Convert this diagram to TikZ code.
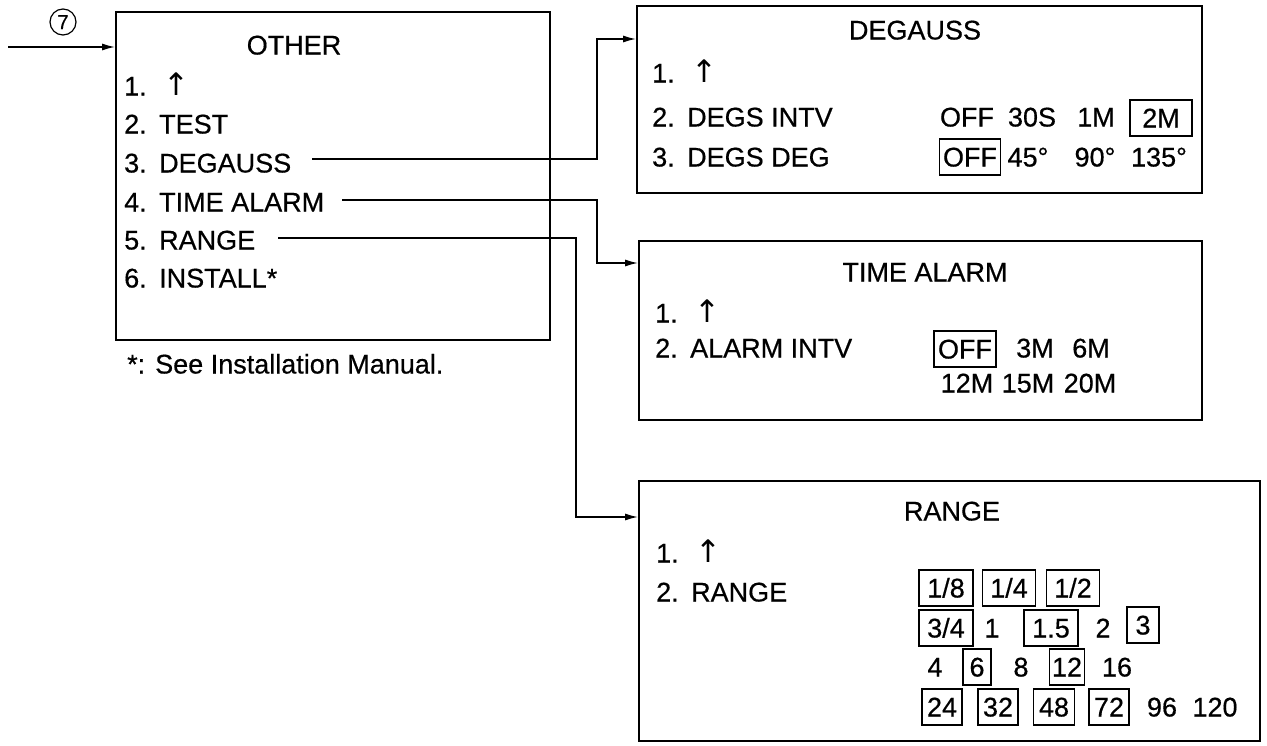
\documentclass[tikz,border=0pt]{standalone}
\usepackage{fontspec}
\setmainfont{Liberation Sans}[FakeBold=0.5]
\newfontfamily\symfont{DejaVu Sans}
\usetikzlibrary{arrows.meta}
\newcommand\mitem[2]{\makebox[35pt][l]{#1}#2}
\newcommand\uparr{\hspace{4pt}{\symfont\fontsize{31}{31}\selectfont ↑}}
\begin{document}
\begin{tikzpicture}[x=1pt,y=-1pt,
  every node/.style={font=\fontsize{27}{30}\selectfont, inner sep=0pt, text height=19pt, text depth=0pt},
  txt/.style={anchor=west},
  menubox/.style={draw, line width=1.8pt, rectangle},
  sel/.style={draw, line width=1.5pt, minimum height=36pt},
  conn/.style={line width=1.5pt, -{Latex[length=13pt,width=7pt]}},
  ]
\useasboundingbox (0,0) rectangle (1267,745);
\fill[white] (0,0) rectangle (1267,745);

% boxes
\node[menubox, minimum width=434pt, minimum height=328pt] (other) at (333,176) {};
\node[menubox, minimum width=565pt, minimum height=187pt] (dg) at (919.5,99.5) {};
\node[menubox, minimum width=563pt, minimum height=179pt] (ta) at (920.5,330.5) {};
\node[menubox, minimum width=621pt, minimum height=260pt] (rg) at (949.5,611) {};

% entry
\node[draw, circle, line width=1.2pt, minimum size=26pt, text height=14pt, font=\fontsize{20}{22}\selectfont] (seven) at (63,22) {7};
\coordinate (in) at (8,47);
\draw[conn] (in) -- (in -| other.west);

% OTHER
\node (othert) at (294,45) {OTHER};
\node[txt] (o1) at (124,86) {\mitem{1.}{\uparr}};
\node[txt] (o2) at (124,124) {\mitem{2.}{TEST}};
\node[txt] (o3) at (124,163) {\mitem{3.}{DEGAUSS}};
\node[txt] (o4) at (124,202) {\mitem{4.}{TIME ALARM}};
\node[txt] (o5) at (124,240) {\mitem{5.}{RANGE}};
\node[txt] (o6) at (124,278) {\mitem{6.}{INSTALL*}};
\node[txt] (foot) at (127,364) {*: See Installation Manual.};

% connectors
\coordinate (s3) at (312,159);
\coordinate (k3) at (597,39);
\draw[conn] (s3) -| (k3) -- (k3 -| dg.west);
\coordinate (s4) at (342,200);
\coordinate (k4) at (597,263);
\draw[conn] (s4) -| (k4) -- (k4 -| ta.west);
\coordinate (s5) at (278,238);
\coordinate (k5) at (576,517);
\draw[conn] (s5) -| (k5) -- (k5 -| rg.west);

% DEGAUSS
\node (dgt) at (915,30) {DEGAUSS};
\node[txt] (d1) at (652,73) {\mitem{1.}{\uparr}};
\node[txt] (d2) at (652,117) {\mitem{2.}{DEGS INTV}};
\node[txt] (d3) at (652,157) {\mitem{3.}{DEGS DEG}};
\node (d2a) at (967,117) {OFF};
\node (d2b) at (1032,117) {30S};
\node (d2c) at (1096,117) {1M};
\node[sel, minimum width=62pt] (d2d) at (1161,118) {2M};
\node[sel, minimum width=61pt] (d3a) at (970,157) {OFF};
\node (d3b) at (1028,157) {45°};
\node (d3c) at (1095,157) {90°};
\node (d3d) at (1159,157) {135°};

% TIME ALARM
\node (tat) at (925,272) {TIME ALARM};
\node[txt] (t1) at (655,313) {\mitem{1.}{\uparr}};
\node[txt] (t2) at (655,348) {\mitem{2.}{ALARM INTV}};
\node[sel, minimum width=62pt] (t2a) at (965,349) {OFF};
\node (t2b) at (1035,348) {3M};
\node (t2c) at (1091,348) {6M};
\node (t3a) at (967,383) {12M};
\node (t3b) at (1028,383) {15M};
\node (t3c) at (1090,383) {20M};

% RANGE
\node (rgt) at (952,511) {RANGE};
\node[txt] (r1) at (656,553) {\mitem{1.}{\uparr}};
\node[txt] (r2) at (656,592) {\mitem{2.}{RANGE}};
\node[sel, minimum width=54pt] (v18) at (946,588) {1/8};
\node[sel, minimum width=53pt] (v14) at (1009,588) {1/4};
\node[sel, minimum width=53pt] (v12) at (1073,588) {1/2};
\node[sel, minimum width=54pt] (v34) at (946,628) {3/4};
\node (v1) at (992,628) {1};
\node[sel, minimum width=54pt] (v15) at (1051,628) {1.5};
\node (v2) at (1103,628) {2};
\node[sel, minimum width=32pt] (v3) at (1143,625) {3};
\node (v4) at (935,667) {4};
\node[sel, minimum width=28pt] (v6) at (977,667) {6};
\node (v8) at (1021,667) {8};
\node[sel, minimum width=35pt] (v120) at (1067,667) {12};
\node (v16) at (1117,667) {16};
\node[sel, minimum width=40pt] (v24) at (942,707) {24};
\node[sel, minimum width=40pt] (v32) at (998,707) {32};
\node[sel, minimum width=41pt] (v48) at (1054,707) {48};
\node[sel, minimum width=40pt] (v72) at (1109,707) {72};
\node (v96) at (1162,707) {96};
\node (v120b) at (1215,707) {120};
\end{tikzpicture}
\end{document}
